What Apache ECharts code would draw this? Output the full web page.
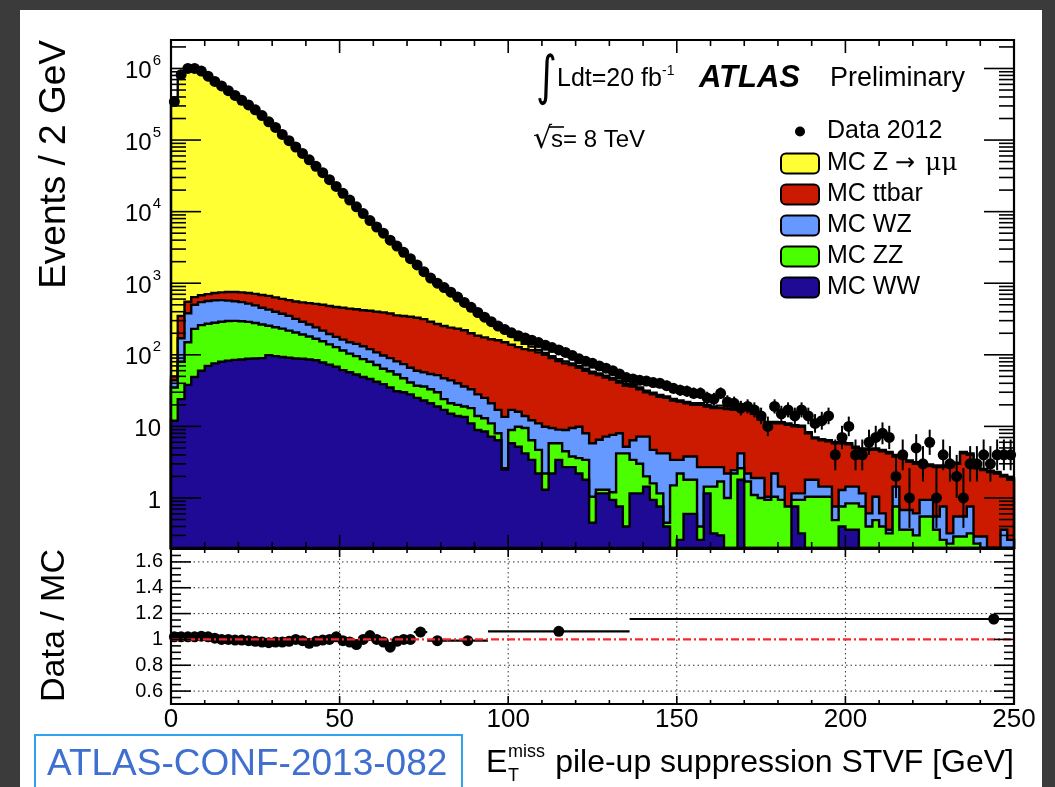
<!DOCTYPE html>
<html>
<head>
<meta charset="utf-8">
<script src="https://cdn.jsdelivr.net/npm/echarts@6/dist/echarts.min.js"></script>
<style>
  html, body { margin: 0; padding: 0; background: #3b3b3b; }
  #chart { width: 1055px; height: 787px; }
</style>
</head>
<body>
<div id="chart"></div>
<script>
// ---------- histogram binning ----------
const binWidth = 2;          // GeV
const xLo = 0, xHi = 250;
const nBins = 125;

// ---------- MC expectation per 2 GeV bin ----------
const ww = [12,24,38,49,60,70,76,80,83,85, 86,88,89,90,99,96,93,91,89,88,
  86,84,78,73,68,61,57,53,49,46, 42,39,35,31,30,28,25,23,21,19,
  17,15,14,13.6,11,8.9,8.5,7.2,6.4,2.5, 5.8,5.2,4.2,3.4,2.2,1.3,2.2,3.4,2.7,2.7,
  2.2,1.8,0.45,1.16,1.16,0.94,0.76,0.4,1.16,1.16, 1.44,0.94,0.76,0.4,0,0.26,0.6,0.6,0.26,1.16,
  0.32,0.3,0,0,1.8,0,0,0,0,0, 0,0,0.76,0.32,0,0,0,0,0,0.4,
  0.36,0.36,0,0,0,0,0,0,0,0, 0,0,0,0,0,0,0,0,0,0, 0,0,0,0,0];

const zz = [23,56,112,181,200,202,204,210,213,213, 208,200,189,175,156,147,139,127,116,104,
  94,84,77,67,60,54,47,43,38,34, 30,25,24,22,17,13,12,13,12,11,
  7,6,6,5.4,7,5.1,4.5,3.8,1.6,0.1, 3.1,4.7,5.3,3.0,2.5,0.9,3.6,2.4,1.8,1.1,
  1.4,1.6,0.59,0.14,0.14,0.26,3.44,3.8,2.24,1.84, 0.56,0.66,0.4,0.05,1.5,1.94,1.2,1.2,0.14,0.28,
  1.12,1.4,1.0,2.2,0.8,1.7,1.1,1.0,0.94,1.04, 0.94,0.76,0.18,0.62,1.04,1.04,1.04,1.04,0.49,0.36,
  0.48,0.48,0.76,0.4,0.49,0.4,0.32,0.76,0.36,0.36, 0.3,0.55,0.55,0.36,0.26,0.23,0.29,0.29,0.32,0.23,
  0,0,0,0,0];

const wz = [9,90,230,270,285,293,298,290,276,262, 251,230,212,190,173,157,143,132,113,98,
  85,74,63,55,50,48,46,46,45,40, 36,34,31,28,27,25,23,21,21,22,
  23,23,20,17,15,14,12,10,9,11, 8.1,6.1,4.5,5.8,6.3,7.7,3.7,3.2,4.4,5.7,
  6.3,4.6,4.76,5.2,5.9,6.4,3.8,1.0,3.0,4.2, 5.2,3.1,3.04,3.75,1.9,1.2,2.0,2.0,2.3,1.26,
  1.26,1.0,1.2,0.25,1.6,0.5,0.8,0.9,0.1,1.16, 0.5,0,0.22,0.22,0.76,0.76,0.4,0.4,0.27,0.53,
  0.6,0.6,0.4,0.21,0.55,0.21,0.04,0.68,0.32,0.32, 0.31,0.39,0.39,0.19,0.5,0.09,0.26,0.26,0.44,0.06,
  0.29,0,0,0.36,0.26];

const ttbar = [6,180,170,140,135,140,152,165,183,195, 200,212,220,230,237,235,230,230,237,250,
  263,273,282,285,287,292,292,290,288,292, 292,294,288,274,274,274,270,258,236,218,
  205,196,192,184,167,157,150,144,143,136.4, 121,112,106,103.8,97,90.1,80.5,73,67.1,62.5,
  56.1,52,49.2,45.5,40.8,37.4,33,31.8,29.6,25.8, 22.8,23.3,21.8,20.8,19.6,18.6,17.2,16.2,17.3,16.3,
  15.3,15.3,15.3,14.55,12.8,14.8,13.1,10.6,9.96,8.8, 9.56,9.74,8.84,8.74,6.2,5.0,4.96,4.76,5.04,4.51,
  4.16,3.56,3.54,4.09,3.66,3.89,3.84,2.36,2.92,2.52, 2.39,1.96,1.86,2.15,1.94,2.38,2.45,3.65,3.24,2.31,
  2.16,2.3,2.2,1.64,1.54];

const zmumu = [339900,799600,979400,979400,899300,764300,649300,569300,489200,421200,
  361300,312300,268300,223300,184300,152400,121400,98920,79450,65160,
  54070,43190,34700,27520,21540,17750,14360,11770,8980,6890,
  5700,4710,3870,2995,2352,1860,1370,1055,910,730,
  628,520,418,330,265,210,165,110,78,62, 45,33,22,14,9,6,6,5,5,4,
  4,4,3,3,3,2.5,2.5,2,2,2, 1.5,1.5,1.5,1.2,1.2,1.1,1,1,1,1,
  1,1.5,1.5,1,1,0.5,0.5,0.5,0.5,0.5, 0.4,0.5,0.4,0.3,0.3,0.2,0.2,0.2,0.2,0.2,
  0.2,0.2,0.2,0.2,0.2,0.2,0.2,0.2,0.2,0.15, 0.15,0.15,0.15,0.15,0.15,0.15,0.1,0.2,0.2,0.1,
  0.1,0.1,0.1,0.1,0.1];

// ---------- observed events per 2 GeV bin ----------
const data2012 = [345000,820000,1000000,1000000,920000,780000,660000,570000,490000,420000,
  360000,310000,265000,220000,180000,150000,120000,98000,80000,65000,
  53000,43000,35000,28000,22500,18000,14500,11700,9400,7500,
  6100,5000,4000,3300,2700,2200,1800,1450,1180,1000,
  870,750,640,540,460,390,335,290,252,225, 203,185,172,160,148,136,126,117,108,98,
  88,81,76,70,65,60,54,48,46,44, 43,41,40,37,34,32,31,29,29,25,
  24,29,22,21,18,19,17,14,10,19, 15,17,14,17,14,11,12,14,4,7,
  10,4,4,6,7,8,7,2,4,1, 5,3,6,1,4,3,2,1,3,3, 4,3,4,4,4];

// ---------- Data / MC (2 GeV bins up to 72 GeV, wider bins above) ----------
const ratioBinLo  = [0,2,4,6,8,10,12,14,16,18,20,22,24,26,28,30,32,34,36,38,40,42,44,46,48,50,52,54,56,58,60,62,64,66,68,70, 72,76,82,94,136];
const ratioBinHi  = [2,4,6,8,10,12,14,16,18,20,22,24,26,28,30,32,34,36,38,40,42,44,46,48,50,52,54,56,58,60,62,64,66,68,70,72, 76,82,94,136,250];
const ratioPointX = [1,3,5,7,9,11,13,15,17,19,21,23,25,27,29,31,33,35,37,39,41,43,45,47,49,51,53,55,57,59,61,63,65,67,69,71, 74,79,88,115,244];
const ratioValues = [1.02,1.02,1.02,1.02,1.025,1.02,1.01,1.0,1.0,0.995, 0.995,0.99,0.985,0.98,0.975,0.98,0.98,0.985,1.0,0.99,
  0.97,0.985,0.995,1.0,1.02,0.99,0.98,0.96,1.0,1.03, 1.0,0.98,0.94,0.985,1.0,1.0, 1.057,0.99,0.99,1.063,1.158];

// ---------- axis ranges and tick labels ----------
const yLo = 0.2, yHi = 2.5e6;
const rLo = 0.5, rHi = 1.7;
const xLabelStep = 50;
const ratioGridValues = [0.6, 0.8, 1.2, 1.4, 1.6];
const xGridValues = [50, 100, 150, 200];

const FONT = '"Liberation Sans", Arial, Helvetica, sans-serif';

const edges = Array.from({ length: nBins + 1 }, (_, i) => xLo + i * binWidth);
const centers = edges.slice(0, -1).map(e => e + binWidth / 2);

// stacked from bottom to top
const stack = [
  { name: 'MC WW', values: ww, color: '#1f0a96' },
  { name: 'MC ZZ', values: zz, color: '#4cff00' },
  { name: 'MC WZ', values: wz, color: '#6699ff' },
  { name: 'MC ttbar', values: ttbar, color: '#cc1a00' },
  { name: 'MC Z \u2192 \u03bc\u03bc', values: zmumu, color: '#ffff33' }
];
let running = new Array(nBins).fill(0);
stack.forEach(p => {
  running = running.map((v, i) => v + p.values[i]);
  p.top = running.slice();
});

const clampY = v => Math.min(Math.max(v, yLo), yHi);

function stackSeries(p) {
  return {
    type: 'custom', name: p.name, xAxisIndex: 0, yAxisIndex: 0, z: 2,
    silent: true, itemStyle: { color: p.color },
    data: [[xLo, yLo]],
    renderItem: (params, api) => {
      const pts = [api.coord([edges[0], yLo])];
      for (let i = 0; i < nBins; i++) {
        const v = clampY(p.top[i]);
        pts.push(api.coord([edges[i], v]), api.coord([edges[i + 1], v]));
      }
      pts.push(api.coord([edges[nBins], yLo]));
      return { type: 'polygon', shape: { points: pts },
        style: { fill: p.color, stroke: '#000', lineWidth: 2.4, lineJoin: 'miter' } };
    }
  };
}

// Poisson-like interval for counts
const dataBars = centers.map((c, i) => {
  const n = data2012[i];
  const s = Math.sqrt(n + 0.25);
  return [c, n + 0.5 - s, n + 0.5 + s];
});

// ratio statistical errors from the merged data counts
const ratioErr = ratioValues.map((r, k) => {
  let n = 0;
  for (let i = 0; i < nBins; i++) if (centers[i] > ratioBinLo[k] && centers[i] < ratioBinHi[k]) n += data2012[i];
  return n > 0 ? r / Math.sqrt(n) : 0;
});

// inward ticks and frame of one panel
function frameSeries(gridIndex, xTicks, yTicks, yRef, xRef) {
  return {
    type: 'custom', xAxisIndex: gridIndex, yAxisIndex: gridIndex, z: 20, silent: true,
    data: [[xRef, yRef]],
    renderItem: (params, api) => {
      const cs = params.coordSys;
      const L = cs.x, R = cs.x + cs.width, T = cs.y, B = cs.y + cs.height;
      const st = { stroke: '#000', lineWidth: 1.6 };
      const ch = [];
      xTicks.forEach(t => {
        const px = api.coord([t.v, yRef])[0];
        ch.push({ type: 'line', shape: { x1: px, y1: B, x2: px, y2: B - t.len }, style: st });
        ch.push({ type: 'line', shape: { x1: px, y1: T, x2: px, y2: T + t.len }, style: st });
      });
      yTicks.forEach(t => {
        const py = api.coord([xRef, t.v])[1];
        ch.push({ type: 'line', shape: { x1: L, y1: py, x2: L + t.len, y2: py }, style: st });
        ch.push({ type: 'line', shape: { x1: R, y1: py, x2: R - t.len, y2: py }, style: st });
      });
      ch.push({ type: 'rect', shape: { x: L, y: T, width: R - L, height: B - T },
        style: { fill: 'none', stroke: '#000', lineWidth: 2.2 } });
      return { type: 'group', children: ch };
    }
  };
}

const xTicksMain = [], xTicksRatio = [];
for (let v = xLo; v <= xHi; v += 10) {
  xTicksMain.push({ v, len: v % 50 === 0 ? 13 : 6 });
  xTicksRatio.push({ v, len: v % 50 === 0 ? 8 : 4 });
}
const yTicksMain = [];
for (let e = -1; e <= 6; e++) {
  for (let k = 1; k <= 9; k++) {
    const v = k * Math.pow(10, e);
    if (v > yLo * 1.0001 && v < yHi) yTicksMain.push({ v, len: k === 1 ? 30 : 15 });
  }
}
const yTicksRatio = [];
for (let j = 11; j <= 33; j++) {
  const v = j * 0.05;
  yTicksRatio.push({ v, len: j % 4 === 0 ? 20 : 10 });
}

const chart = echarts.init(document.getElementById('chart'), null, { renderer: 'canvas' });

const superRich = {
  b: { fontSize: 24, fontFamily: FONT, color: '#000', lineHeight: 30, verticalAlign: 'bottom' },
  s: { fontSize: 15, fontFamily: FONT, color: '#000', lineHeight: 30, verticalAlign: 'top', padding: [0, 0, 0, 1] }
};

chart.setOption({
  animation: false,
  backgroundColor: '#3b3b3b',
  graphic: [
    { type: 'rect', z: -10, shape: { x: 20, y: 10, width: 1022, height: 790 }, style: { fill: '#ffffff' } },
    // luminosity / energy labels
    { type: 'text', x: 536, y: 80, scaleY: 1.35, style: { text: '\u222b', font: '40px "DejaVu Sans"', fill: '#000', verticalAlign: 'middle' } },
    { type: 'text', x: 557, y: 79, style: { text: 'Ldt=20 fb', font: '25px ' + FONT, fill: '#000', verticalAlign: 'middle' } },
    { type: 'text', x: 662, y: 71, style: { text: '-1', font: '14px ' + FONT, fill: '#000', verticalAlign: 'middle' } },
    { type: 'text', x: 699, y: 78, style: { text: 'ATLAS', font: 'italic bold 31px ' + FONT, fill: '#000', verticalAlign: 'middle' } },
    { type: 'text', x: 830, y: 79, style: { text: 'Preliminary', font: '27px ' + FONT, fill: '#000', verticalAlign: 'middle' } },
    { type: 'text', x: 533, y: 140, style: { text: '\u221a', font: '30px "DejaVu Sans"', fill: '#000', verticalAlign: 'middle' } },
    { type: 'line', shape: { x1: 549, y1: 127, x2: 564, y2: 127 }, style: { stroke: '#000', lineWidth: 1.6 } },
    { type: 'text', x: 551, y: 140, style: { text: 's= 8 TeV', font: '24px ' + FONT, fill: '#000', verticalAlign: 'middle' } },
    // axis titles
    { type: 'text', x: 55, y: 40, rotation: Math.PI / 2,
      style: { text: 'Events / 2 GeV', font: '37px ' + FONT, fill: '#000', align: 'right', verticalAlign: 'middle' } },
    { type: 'text', x: 55, y: 549, rotation: Math.PI / 2,
      style: { text: 'Data / MC', font: '34px ' + FONT, fill: '#000', align: 'right', verticalAlign: 'middle' } },
    { type: 'text', x: 486, y: 763, style: { text: 'E', font: '32px ' + FONT, fill: '#000', verticalAlign: 'middle' } },
    { type: 'text', x: 508, y: 752, style: { text: 'miss', font: '18px ' + FONT, fill: '#000', verticalAlign: 'middle' } },
    { type: 'text', x: 508, y: 776, style: { text: 'T', font: '18px ' + FONT, fill: '#000', verticalAlign: 'middle' } },
    { type: 'text', x: 1014, y: 763, style: { text: 'pile-up suppression STVF [GeV]', font: '32px ' + FONT, fill: '#000', align: 'right', verticalAlign: 'middle' } },
    // note reference box
    { type: 'rect', shape: { x: 35, y: 735, width: 427, height: 60 }, style: { fill: '#fff', stroke: '#2ea3f2', lineWidth: 2 } },
    { type: 'text', x: 47, y: 765, style: { text: 'ATLAS-CONF-2013-082', font: '37px ' + FONT, fill: '#3f6fd0', verticalAlign: 'middle' } }
  ],
  legend: [
    {
      data: [{ name: 'Data 2012', icon: 'circle' }],
      left: 790, top: 114, orient: 'vertical', itemWidth: 38, itemHeight: 10,
      selectedMode: false,
      textStyle: { fontSize: 25, fontFamily: FONT, color: '#000', padding: [0, 0, 0, 3] }
    },
    {
      data: stack.slice().reverse().map(p => ({ name: p.name, icon: 'roundRect' })),
      left: 775, top: 146, orient: 'vertical', itemWidth: 38, itemHeight: 20, itemGap: 6,
      selectedMode: false,
      itemStyle: { borderColor: '#000', borderWidth: 2 },
      formatter: name => name.indexOf('\u2192') >= 0
        ? name.replace('\u2192', '{arr|\u2192}').replace('\u03bc\u03bc', '{mu|\u03bc\u03bc}')
        : name,
      textStyle: {
        fontSize: 25, fontFamily: FONT, color: '#000', padding: [0, 0, 0, 3],
        rich: {
          arr: { fontSize: 24, fontFamily: '"DejaVu Sans"', color: '#000', padding: [0, 3, 0, 0] },
          mu: { fontSize: 25, fontFamily: '"DejaVu Serif"', color: '#000' }
        }
      }
    }
  ],
  grid: [
    { left: 171, right: 41, top: 40, height: 508 },
    { left: 171, right: 41, top: 549, height: 155 }
  ],
  xAxis: [
    { type: 'value', gridIndex: 0, min: xLo, max: xHi, interval: xLabelStep,
      axisLine: { show: false }, axisTick: { show: false }, axisLabel: { show: false }, splitLine: { show: false } },
    { type: 'value', gridIndex: 1, min: xLo, max: xHi, interval: xLabelStep,
      axisLine: { show: false }, axisTick: { show: false }, splitLine: { show: false },
      axisLabel: { fontSize: 26, fontFamily: FONT, color: '#000', margin: 3 } }
  ],
  yAxis: [
    { type: 'log', logBase: 10, gridIndex: 0, min: yLo, max: yHi, splitNumber: 8,
      axisLine: { show: false }, axisTick: { show: false }, splitLine: { show: false },
      axisLabel: {
        margin: 10, showMinLabel: false, showMaxLabel: false,
        formatter: v => {
          const l = Math.log10(v);
          const e = Math.round(l);
          if (Math.abs(l - e) > 1e-6) return '';
          if (e === 0) return '{b|1}';
          if (e === 1) return '{b|10}';
          return '{b|10}{s|' + e + '}';
        },
        rich: superRich
      } },
    { type: 'value', gridIndex: 1, min: rLo, max: rHi, interval: 0.1,
      axisLine: { show: false }, axisTick: { show: false }, splitLine: { show: false },
      axisLabel: {
        margin: 8, fontSize: 20, fontFamily: FONT, color: '#000',
        formatter: v => {
          const r = Math.round(v * 10);
          return r % 2 ? '' : String(r / 10);
        }
      } }
  ],
  series: [
    ...stack.slice().reverse().map(stackSeries),
    {
      type: 'custom', name: 'dataErrors', xAxisIndex: 0, yAxisIndex: 0, z: 4, silent: true,
      encode: { x: 0, y: 1 },
      data: dataBars,
      renderItem: (params, api) => {
        const c = api.value(0);
        const p1 = api.coord([c, clampY(api.value(1))]);
        const p2 = api.coord([c, clampY(api.value(2))]);
        return { type: 'line', shape: { x1: p1[0], y1: p1[1], x2: p2[0], y2: p2[1] },
          style: { stroke: '#000', lineWidth: 2 } };
      }
    },
    {
      type: 'scatter', name: 'Data 2012', xAxisIndex: 0, yAxisIndex: 0, z: 5, silent: true,
      symbol: 'circle', symbolSize: 11, itemStyle: { color: '#000', opacity: 1 },
      data: centers.map((c, i) => [c, data2012[i]])
    },
    // ratio panel grid
    {
      type: 'custom', xAxisIndex: 1, yAxisIndex: 1, z: 1, silent: true,
      data: [[xLo, 1]],
      renderItem: (params, api) => {
        const st = { stroke: '#333', lineWidth: 1, lineDash: [1.5, 3] };
        const ch = [];
        ratioGridValues.forEach(v => {
          const a = api.coord([xLo, v]), b = api.coord([xHi, v]);
          ch.push({ type: 'line', shape: { x1: a[0], y1: a[1], x2: b[0], y2: b[1] }, style: st });
        });
        xGridValues.forEach(v => {
          const a = api.coord([v, rLo]), b = api.coord([v, rHi]);
          ch.push({ type: 'line', shape: { x1: a[0], y1: a[1], x2: b[0], y2: b[1] }, style: st });
        });
        return { type: 'group', children: ch };
      }
    },
    {
      type: 'custom', name: 'ratioErrors', xAxisIndex: 1, yAxisIndex: 1, z: 4, silent: true,
      encode: { x: 0, y: 1 },
      data: ratioPointX.map((x, k) => [x, ratioValues[k], ratioBinLo[k], ratioBinHi[k], ratioErr[k]]),
      renderItem: (params, api) => {
        const x = api.value(0), r = api.value(1);
        const h1 = api.coord([api.value(2), r]), h2 = api.coord([api.value(3), r]);
        const v1 = api.coord([x, r - api.value(4)]), v2 = api.coord([x, r + api.value(4)]);
        const st = { stroke: '#000', lineWidth: 2.2 };
        return { type: 'group', children: [
          { type: 'line', shape: { x1: h1[0], y1: h1[1], x2: h2[0], y2: h2[1] }, style: st },
          { type: 'line', shape: { x1: v1[0], y1: v1[1], x2: v2[0], y2: v2[1] }, style: st }
        ] };
      }
    },
    {
      type: 'scatter', name: 'ratio', xAxisIndex: 1, yAxisIndex: 1, z: 5, silent: true,
      symbol: 'circle', symbolSize: 11, itemStyle: { color: '#000', opacity: 1 },
      data: ratioPointX.map((x, k) => [x, ratioValues[k]])
    },
    {
      type: 'line', name: 'unity', xAxisIndex: 1, yAxisIndex: 1, z: 6, silent: true,
      symbol: 'none', data: [[xLo, 1], [xHi, 1]],
      lineStyle: { color: '#f22a2a', width: 2.2, type: [8, 3, 2, 3] }
    },
    frameSeries(0, xTicksMain, yTicksMain, 1, xLo),
    frameSeries(1, xTicksRatio, yTicksRatio, 1, xLo)
  ]
});
</script>
</body>
</html>
